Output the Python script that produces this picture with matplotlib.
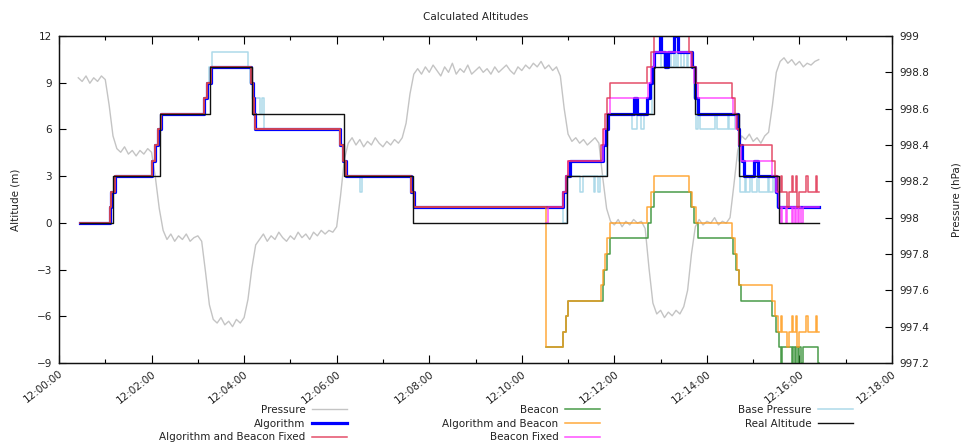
import numpy as np
import matplotlib
matplotlib.use("Agg")
import matplotlib.pyplot as plt
from matplotlib.ticker import MultipleLocator, FuncFormatter
from matplotlib.lines import Line2D

# ---- data (time in seconds after 12:00:00) ----
pressure_start, pressure_step = 25, 5
pressure_hpa = [
    998.77, 998.75, 998.78, 998.74, 998.77, 998.75, 998.78, 998.76, 998.62, 998.45,
    998.38, 998.36, 998.39, 998.35, 998.37, 998.34, 998.37, 998.35, 998.38, 998.36,
    998.22, 998.05, 997.93, 997.88, 997.91, 997.87, 997.90, 997.88, 997.91, 997.87,
    997.89, 997.90, 997.87, 997.70, 997.52, 997.44, 997.42, 997.45, 997.41, 997.43,
    997.40, 997.44, 997.42, 997.45, 997.55, 997.72, 997.85, 997.88, 997.91, 997.87,
    997.90, 997.88, 997.92, 997.89, 997.87, 997.90, 997.88, 997.92, 997.89, 997.91,
    997.88, 997.92, 997.90, 997.93, 997.91, 997.93, 997.92, 997.95, 998.12, 998.32,
    998.41, 998.44, 998.40, 998.43, 998.39, 998.42, 998.40, 998.44, 998.41, 998.39,
    998.42, 998.40, 998.43, 998.41, 998.44, 998.52, 998.68, 998.79, 998.82, 998.79,
    998.83, 998.80, 998.84, 998.81, 998.78, 998.83, 998.80, 998.85, 998.79, 998.82,
    998.80, 998.84, 998.79, 998.81, 998.83, 998.80, 998.82, 998.79, 998.83, 998.80,
    998.82, 998.84, 998.81, 998.79, 998.83, 998.81, 998.84, 998.82, 998.85, 998.83,
    998.86, 998.82, 998.84, 998.81, 998.83, 998.78, 998.60, 998.46, 998.42, 998.44,
    998.41, 998.43, 998.40, 998.42, 998.44, 998.41, 998.22, 998.05, 997.98, 997.96,
    997.99, 997.95, 997.98, 997.96, 997.99, 997.97, 997.98, 997.94, 997.72, 997.53,
    997.47, 997.49, 997.45, 997.48, 997.46, 997.49, 997.47, 997.51, 997.60, 997.80,
    997.95, 997.99, 997.96, 997.98, 997.97, 998.00, 997.96, 997.98, 997.97, 998.00,
    998.18, 998.37, 998.45, 998.43, 998.46, 998.42, 998.44, 998.41, 998.45, 998.47,
    998.62, 998.80, 998.86, 998.88, 998.85, 998.87, 998.84, 998.86, 998.83, 998.85,
    998.84, 998.86, 998.87,
]

real_t = [27, 70, 131, 196, 250, 370, 459, 659, 710, 771, 824, 881, 933, 985]
real_v = [0, 3, 7, 10, 7, 3, 0, 3, 7, 10, 7, 3, 0, 0]

algo_t = [27, 66, 68, 72, 121, 125, 128, 132, 188, 192, 197, 249, 251, 253, 254,
          364, 368, 372, 456, 460, 653, 657, 662, 705, 709, 712, 745, 750,
          762, 766, 769, 772, 779, 781, 786, 789, 798, 802, 821, 824, 825, 828,
          880, 882, 885, 888, 901, 906, 929, 932, 985]
algo_v = [0, 1, 2, 3, 4, 5, 6, 7, 8, 9, 10, 9, 8, 7, 6,
          5, 4, 3, 2, 1, 2, 3, 4, 5, 6, 7, 8, 7,
          8, 9, 10, 11, 12, 11, 10, 11, 12, 11, 10, 9, 8, 7,
          6, 5, 4, 3, 4, 3, 2, 1, 1]

alg_beacon_t = [27, 66, 68, 72, 121, 125, 128, 132, 188, 192, 197, 249, 251, 253, 254,
                364, 368, 372, 456, 460, 632, 654, 657, 660, 703, 705, 708, 711, 714,
                763, 768, 772, 817, 821, 826, 873, 876, 879, 882, 925, 928, 932,
                936, 938, 944, 946, 950, 952, 956, 957, 959, 969, 971, 981, 983, 985]
alg_beacon_v = [0, 1, 2, 3, 4, 5, 6, 7, 8, 9, 10, 9, 8, 7, 6,
                5, 4, 3, 2, 1, -8, -7, -6, -5, -4, -3, -2, -1, 0,
                1, 2, 3, 2, 1, 0, -1, -2, -3, -4, -5, -6, -7,
                -6, -7, -8, -7, -6, -7, -6, -8, -7, -6, -7, -6, -7, -7]

alg_beacon_fixed_t = [27, 66, 68, 72, 121, 125, 128, 132, 188, 192, 197, 249, 251, 253, 254,
                      364, 368, 372, 456, 460, 654, 657, 660, 703, 705, 708, 711, 714,
                      763, 768, 772, 817, 821, 826, 873, 876, 879, 882, 925, 928, 932,
                      936, 938, 944, 946, 950, 952, 956, 957, 959, 969, 971, 981, 983, 985]
alg_beacon_fixed_v = [0, 1, 2, 3, 4, 5, 6, 7, 8, 9, 10, 9, 8, 7, 6,
                      5, 4, 3, 2, 1, 2, 3, 4, 5, 6, 7, 8, 9,
                      10, 11, 12, 11, 10, 9, 8, 7, 6, 5, 4, 3, 2,
                      3, 2, 1, 2, 3, 2, 3, 1, 2, 3, 2, 3, 2, 2]

beacon_t = [632, 654, 657, 660, 705, 707, 710, 715, 764, 768, 772, 819, 823, 828,
            874, 878, 881, 884, 925, 929, 933,
            936, 938, 950, 952, 954, 956, 958, 960, 962, 964, 984, 985]
beacon_v = [-8, -7, -6, -5, -4, -3, -2, -1, 0, 1, 2, 1, 0, -1,
            -2, -3, -4, -5, -6, -7, -8,
            -9, -8, -9, -8, -9, -8, -9, -8, -9, -8, -9, -9]

beacon_fixed_t = [632, 634, 654, 657, 660, 705, 707, 710, 715, 764, 768, 772, 819, 823, 828,
                  874, 878, 881, 884, 925, 929, 933,
                  936, 938, 942, 944, 950, 952, 954, 956, 958, 960, 962, 964, 985]
beacon_fixed_v = [0, 1, 2, 3, 4, 5, 6, 7, 8, 9, 10, 11, 10, 9, 8,
                  7, 6, 5, 4, 3, 2, 1,
                  0, 1, 0, 1, 0, 1, 0, 1, 0, 1, 0, 1, 1]

base_t = [27, 66, 68, 72, 121, 125, 128, 132, 188, 192, 194, 198, 245, 247, 252, 260, 263, 266,
          364, 368, 372, 390, 393, 456, 460, 654, 658, 676, 679, 693, 695, 699, 702,
          710, 711, 743, 749, 755, 759, 769, 771, 781, 785, 788, 790, 794, 797, 800, 803,
          807, 810, 814, 816, 821, 823, 826, 829, 831, 851, 853, 867, 869, 877, 879,
          881, 883, 889, 891, 896, 898, 905, 907, 919, 921, 926, 928, 931, 985]
base_v = [0, 1, 2, 3, 4, 5, 6, 7, 8, 9, 10, 11, 10, 9, 8, 7, 8, 6,
          5, 4, 3, 2, 3, 2, 1, 0, 3, 2, 3, 2, 3, 2, 3,
          5, 7, 6, 7, 6, 7, 10, 11, 10, 11, 10, 11, 10, 11, 10, 11,
          10, 11, 10, 11, 10, 8, 6, 7, 6, 7, 6, 7, 6, 7, 6,
          4, 2, 3, 2, 3, 2, 3, 2, 3, 2, 3, 2, 1, 1]

x_ticks_sec = list(range(0, 1081, 120))

# ---- figure ----
W, H = 965, 447
fig = plt.figure(figsize=(W / 100, H / 100), dpi=100)
ax = fig.add_axes([59 / W, 1 - 363 / H, (892 - 59) / W, (363 - 36) / H])
ax2 = ax.twinx()
ax.set_zorder(ax2.get_zorder() + 1)
ax.patch.set_visible(False)

FS = 7.5
TXT = "#222222"

p_t = np.arange(len(pressure_hpa)) * pressure_step + pressure_start
ax2.plot(p_t, pressure_hpa, color="#c4c4c4", lw=1.0)

styles = {
    "Pressure": dict(color="#c4c4c4", lw=1.0),
    "Base Pressure": dict(color="#9fd3e6", lw=1.1, alpha=0.85),
    "Algorithm": dict(color="#0000ff", lw=2.3),
    "Beacon": dict(color="#2a8a2a", lw=1.1, alpha=0.85),
    "Algorithm and Beacon": dict(color="#ff9a1a", lw=1.1, alpha=0.85),
    "Beacon Fixed": dict(color="#ff33ff", lw=1.1, alpha=0.85),
    "Algorithm and Beacon Fixed": dict(color="#e0304f", lw=1.1, alpha=0.85),
    "Real Altitude": dict(color="#111111", lw=1.0),
}

series = [
    ("Base Pressure", base_t, base_v),
    ("Algorithm", algo_t, algo_v),
    ("Beacon", beacon_t, beacon_v),
    ("Algorithm and Beacon", alg_beacon_t, alg_beacon_v),
    ("Beacon Fixed", beacon_fixed_t, beacon_fixed_v),
    ("Algorithm and Beacon Fixed", alg_beacon_fixed_t, alg_beacon_fixed_v),
    ("Real Altitude", real_t, real_v),
]
for name, t, v in series:
    ax.plot(t, v, drawstyle="steps-post", **styles[name])

# ---- axes ----
ax.set_xlim(0, 1080)
ax.set_ylim(-9, 12)
ax2.set_ylim(997.2, 999.0)
ax.set_xticks(x_ticks_sec)
ax.xaxis.set_minor_locator(MultipleLocator(60))
ax.xaxis.set_major_formatter(FuncFormatter(lambda v, p: "12:%02d:00" % int(round(v / 60))))
ax.yaxis.set_major_locator(MultipleLocator(3))
ax2.yaxis.set_major_locator(MultipleLocator(0.2))
ax2.yaxis.set_major_formatter(FuncFormatter(lambda v, p: "%g" % round(v, 1)))

ax.tick_params(axis="x", which="major", direction="in", length=6, top=True, width=0.8,
               labelsize=FS, labelcolor=TXT, pad=4)
ax.tick_params(axis="x", which="minor", direction="in", length=3, top=True, width=0.8)
ax.tick_params(axis="y", direction="in", length=5, width=0.8, labelsize=FS,
               labelcolor=TXT, pad=5, right=False)
ax2.tick_params(axis="y", direction="in", length=5, width=0.8, labelsize=FS,
                labelcolor=TXT, pad=5)
for lab in ax.get_xticklabels():
    lab.set_rotation(38)
    lab.set_ha("right")
    lab.set_va("top")
    lab.set_rotation_mode("anchor")

for a in (ax, ax2):
    for s in a.spines.values():
        s.set_linewidth(0.9)
        s.set_color("#111111")

ax.set_ylabel("Altitude (m)", fontsize=FS, color=TXT, labelpad=12)
ax2.set_ylabel("Pressure (hPa)", fontsize=FS, color=TXT, labelpad=16)
fig.text(0.5 * (59 + 892) / W, 1 - 17 / H, "Calculated Altitudes", ha="center",
         va="center", fontsize=FS, color=TXT)

# ---- legend: three right-aligned columns ----
legend_cols = [
    ["Pressure", "Algorithm", "Algorithm and Beacon Fixed"],
    ["Beacon", "Algorithm and Beacon", "Beacon Fixed"],
    ["Base Pressure", "Real Altitude"],
]
col_right_px = [347, 600, 853]
for names, xr in zip(legend_cols, col_right_px):
    handles = []
    for n in names:
        st = dict(styles[n])
        handles.append(Line2D([], [], **st))
    fig.legend(handles, names, loc="upper right", bbox_to_anchor=(xr / W, 1 - 405 / H),
               frameon=False, markerfirst=False, handlelength=3.4, handletextpad=0.6,
               labelspacing=0.35, borderpad=0, borderaxespad=0, fontsize=FS,
               labelcolor=TXT)

fig.savefig("out.png", dpi=100)
